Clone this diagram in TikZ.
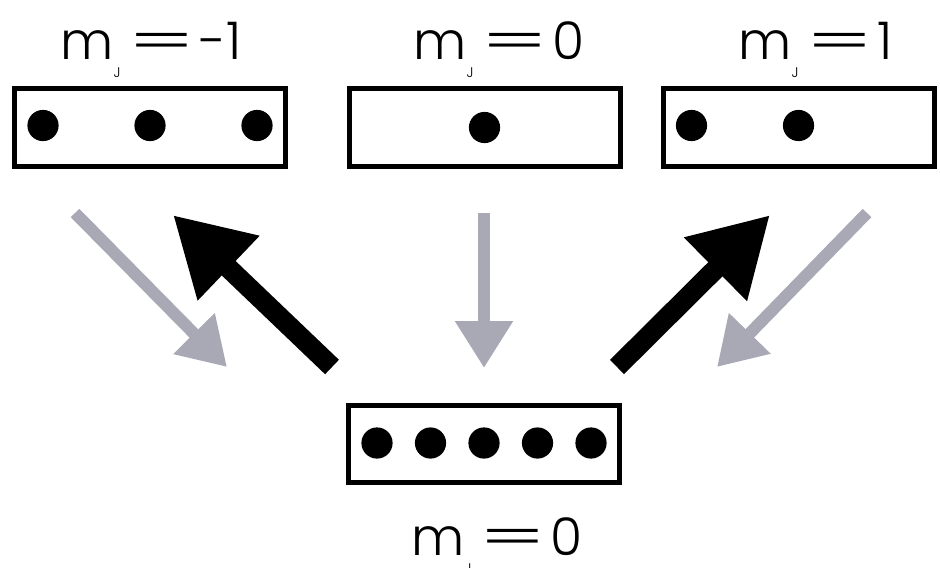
\documentclass[tikz,border=0pt]{standalone}
\usepackage{fontspec}
\usepackage{graphicx}
\setmainfont{Poppins}[UprightFont={* Light}]
\usetikzlibrary{arrows.meta, calc}
\definecolor{weak}{RGB}{168,169,181}
\newcommand{\mjlabel}[1]{m\hspace{0pt}\raisebox{-9pt}{\fontsize{7}{7}\selectfont J}\hspace{4pt}\scalebox{1.9}[1]{=}\hspace{2pt}#1}

\begin{document}
\begin{tikzpicture}[x=0.5pt, y=-0.5pt,
  lbl/.style={font=\fontsize{26}{28}\selectfont, inner sep=0pt},
  shelf/.style={draw, line width=2.5pt, minimum width=135.5pt, minimum height=38.5pt, inner sep=0pt},
  weakarr/.style={-{Triangle[length=23.5pt, width=27.5pt]}, line width=6pt, weak},
  strongarr/.style={-{Triangle[length=38.5pt, width=42pt]}, line width=10pt, black}]

\useasboundingbox (0,0) rectangle (940,567);

% level boxes
\node[shelf] at (150,127.5) (boxA) {};
\node[shelf] at (484.5,127.5) (boxB) {};
\node[shelf] at (798.5,127.5) (boxC) {};
\node[shelf] at (484,444) (boxD) {};

% populations
\foreach \k in {-2,0,2} \fill ($(boxA)+(\k*53.5,-2)$) circle[radius=7.8pt];
\fill (boxB) circle[radius=7.8pt];
\foreach \k in {-2,0} \fill ($(boxC)+(\k*53.5,-2)$) circle[radius=7.8pt];
\foreach \k in {-2,...,2} \fill ($(boxD)+(\k*53.5,-1)$) circle[radius=7.8pt];

% labels
\node[lbl, anchor=base west] at (60,60) (lblA) {\mjlabel{-1}};
\node[lbl, anchor=base west] at (413,60) (lblB) {\mjlabel{0}};
\node[lbl, anchor=base west] at (738,60) (lblC) {\mjlabel{1}};
\node[lbl, anchor=base west] at (411,555) (lblD) {\mjlabel{0}};

% transitions
\coordinate (g1s) at (75,213);   \coordinate (g1e) at (227,367);
\coordinate (b1s) at (332,367);  \coordinate (b1e) at (173,215);
\coordinate (g2s) at (484,213);  \coordinate (g2e) at (484,368);
\coordinate (b2s) at (617,367);  \coordinate (b2e) at (770,215);
\coordinate (g3s) at (867,213);  \coordinate (g3e) at (717,367);

\draw[weakarr] (g1s) -- (g1e);
\draw[strongarr] (b1s) -- (b1e);
\draw[weakarr] (g2s) -- (g2e);
\draw[strongarr] (b2s) -- (b2e);
\draw[weakarr] (g3s) -- (g3e);
\end{tikzpicture}
\end{document}
